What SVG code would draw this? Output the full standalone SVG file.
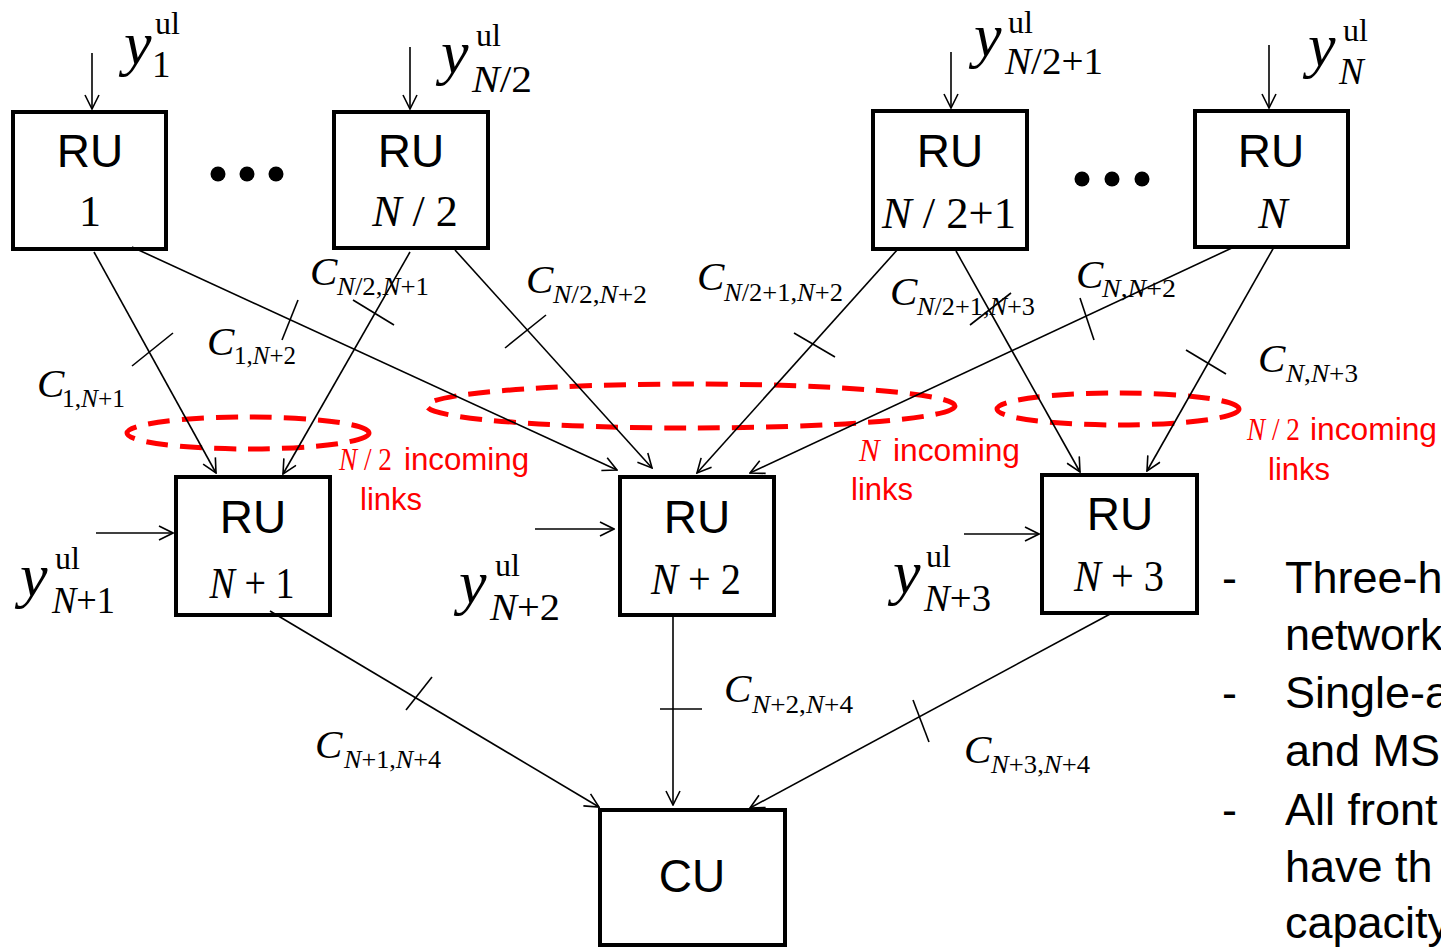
<svg xmlns="http://www.w3.org/2000/svg" width="1441" height="947" viewBox="0 0 1441 947">
<style>
.box{fill:#fff;stroke:#000;stroke-width:4}
.ru{font-family:"Liberation Sans",Arial,sans-serif;font-size:46px;text-anchor:middle;fill:#000}
.num{font-family:"Liberation Serif","Times New Roman",serif;font-size:44px;text-anchor:middle;fill:#000}
.i{font-style:italic}
.yv{font-family:"Liberation Serif","Times New Roman",serif;font-style:italic;font-size:62px}
.sup{font-family:"Liberation Serif","Times New Roman",serif;font-size:32px}
.sub{font-family:"Liberation Serif","Times New Roman",serif;font-size:37px}
.c{font-family:"Liberation Serif","Times New Roman",serif;font-style:italic;font-size:41px}
.cs{font-family:"Liberation Serif","Times New Roman",serif;font-size:25px}
.red{font-family:"Liberation Sans",Arial,sans-serif;font-size:31px;fill:#f00}
.redm{font-family:"Liberation Serif","Times New Roman",serif;font-size:31px;fill:#f00}
.note{font-family:"Liberation Sans",Arial,sans-serif;font-size:45px;fill:#000}
.conn line{stroke:#000;stroke-width:1.6;marker-end:url(#ah)}
.tick line{stroke:#000;stroke-width:1.6}
.ell{fill:none;stroke:#f00;stroke-width:5;stroke-dasharray:22 12}
</style>
<defs>
<marker id="ah" viewBox="0 0 16 16" refX="15" refY="8" markerWidth="16" markerHeight="16" markerUnits="userSpaceOnUse" orient="auto">
<path d="M1,1 L15,8 L1,15" fill="none" stroke="#000" stroke-width="1.6"/>
</marker>
</defs>
<rect width="1441" height="947" fill="#fff"/>

<g id="ru1"><rect class="box" x="13" y="112" width="153" height="137"/><text class="ru" x="90" y="167">RU</text><text class="num" x="90" y="226">1</text></g>
<g id="ruN2"><rect class="box" x="334" y="112" width="154" height="136"/><text class="ru" x="411" y="167">RU</text><text class="num" x="415" y="226"><tspan class="i">N</tspan> / 2</text></g>
<g id="ruN21"><rect class="box" x="873" y="111" width="154" height="138"/><text class="ru" x="950" y="167">RU</text><text class="num" x="949" y="228" textLength="134" lengthAdjust="spacingAndGlyphs"><tspan class="i">N</tspan> / 2+1</text></g>
<g id="ruN"><rect class="box" x="1195" y="111" width="153" height="136"/><text class="ru" x="1271" y="167">RU</text><text class="num i" x="1273" y="228">N</text></g>
<g id="ruN1"><rect class="box" x="176" y="477" width="154" height="138"/><text class="ru" x="253" y="533">RU</text><text class="num" x="252" y="598" textLength="85" lengthAdjust="spacingAndGlyphs"><tspan class="i">N</tspan> + 1</text></g>
<g id="ruN2b"><rect class="box" x="620" y="477" width="154" height="138"/><text class="ru" x="697" y="533">RU</text><text class="num" x="696" y="594" textLength="90" lengthAdjust="spacingAndGlyphs"><tspan class="i">N</tspan> + 2</text></g>
<g id="ruN3"><rect class="box" x="1042" y="475" width="155" height="138"/><text class="ru" x="1120" y="530">RU</text><text class="num" x="1119" y="591" textLength="90" lengthAdjust="spacingAndGlyphs"><tspan class="i">N</tspan> + 3</text></g>
<g id="cu"><rect class="box" x="600" y="810" width="185" height="135"/><text class="ru" x="692" y="892">CU</text></g>

<g id="dots">
<circle cx="218" cy="174" r="7.5"/><circle cx="247" cy="174" r="7.5"/><circle cx="276" cy="174" r="7.5"/>
<circle cx="1082" cy="179" r="7.5"/><circle cx="1112" cy="179" r="7.5"/><circle cx="1142" cy="179" r="7.5"/>
</g>

<g id="ellipses">
<ellipse class="ell" cx="248" cy="433" rx="121" ry="16"/>
<ellipse class="ell" cx="691" cy="406" rx="264" ry="22"/>
<ellipse class="ell" cx="1118" cy="409" rx="121" ry="16"/>
</g>

<g id="connectors">
<g class="conn">
<line x1="92" y1="53" x2="92" y2="109"/>
<line x1="410" y1="47" x2="410" y2="109"/>
<line x1="951" y1="52" x2="951" y2="108"/>
<line x1="1269" y1="45" x2="1269" y2="108"/>
<line x1="96" y1="533" x2="173" y2="533"/>
<line x1="535" y1="529" x2="614" y2="529"/>
<line x1="964" y1="534" x2="1039" y2="534"/>
<line x1="94" y1="252" x2="216" y2="473"/>
<line x1="132" y1="247" x2="617" y2="470"/>
<line x1="410" y1="252" x2="283" y2="474"/>
<line x1="455" y1="250" x2="652" y2="468"/>
<line x1="898" y1="249" x2="697" y2="473"/>
<line x1="956" y1="251" x2="1080" y2="472"/>
<line x1="1234" y1="247" x2="750" y2="473"/>
<line x1="1274" y1="247" x2="1147" y2="471"/>
<line x1="270" y1="611" x2="599" y2="807"/>
<line x1="673" y1="617" x2="673" y2="805"/>
<line x1="1112" y1="613" x2="750" y2="808"/>
</g>
<g class="tick">
<line x1="132" y1="366" x2="173" y2="333"/>
<line x1="282" y1="340" x2="298" y2="300"/>
<line x1="353" y1="300" x2="394" y2="325"/>
<line x1="505" y1="348" x2="546" y2="315"/>
<line x1="794" y1="333" x2="835" y2="357"/>
<line x1="970" y1="325" x2="1011" y2="293"/>
<line x1="1080" y1="298" x2="1094" y2="340"/>
<line x1="1186" y1="350" x2="1226" y2="374"/>
<line x1="406" y1="710" x2="432" y2="677"/>
<line x1="660" y1="709" x2="702" y2="709"/>
<line x1="913" y1="700" x2="929" y2="742"/>
</g>
</g>

<g id="inputs">
<text class="yv" x="124" y="64">y</text><text class="sup" x="155" y="34">ul</text><text class="sub" x="152" y="77">1</text>
<text class="yv" x="441" y="73">y</text><text class="sup" x="476" y="46">ul</text><text class="sub" x="472" y="92" textLength="60" lengthAdjust="spacingAndGlyphs"><tspan class="i">N</tspan>/2</text>
<text class="yv" x="974" y="56">y</text><text class="sup" x="1008" y="33">ul</text><text class="sub" x="1005" y="74" textLength="98" lengthAdjust="spacingAndGlyphs"><tspan class="i">N</tspan>/2+1</text>
<text class="yv" x="1308" y="66">y</text><text class="sup" x="1343" y="41">ul</text><text class="sub i" x="1339" y="84">N</text>
<text class="yv" x="20" y="596">y</text><text class="sup" x="55" y="569">ul</text><text class="sub" x="52" y="613" textLength="63" lengthAdjust="spacingAndGlyphs"><tspan class="i">N</tspan>+1</text>
<text class="yv" x="459" y="603">y</text><text class="sup" x="495" y="576">ul</text><text class="sub" x="490" y="620" textLength="70" lengthAdjust="spacingAndGlyphs"><tspan class="i">N</tspan>+2</text>
<text class="yv" x="893" y="593">y</text><text class="sup" x="926" y="567">ul</text><text class="sub" x="924" y="611" textLength="67" lengthAdjust="spacingAndGlyphs"><tspan class="i">N</tspan>+3</text>
</g>

<g id="capacities">
<text class="c" x="37" y="397">C</text><text class="cs" x="62" y="407" textLength="63" lengthAdjust="spacingAndGlyphs">1,<tspan class="i">N</tspan>+1</text>
<text class="c" x="207" y="355">C</text><text class="cs" x="234" y="364" textLength="62" lengthAdjust="spacingAndGlyphs">1,<tspan class="i">N</tspan>+2</text>
<text class="c" x="310" y="285">C</text><text class="cs" x="337" y="295" textLength="92" lengthAdjust="spacingAndGlyphs"><tspan class="i">N</tspan>/2,<tspan class="i">N</tspan>+1</text>
<text class="c" x="526" y="293">C</text><text class="cs" x="553" y="303" textLength="94" lengthAdjust="spacingAndGlyphs"><tspan class="i">N</tspan>/2,<tspan class="i">N</tspan>+2</text>
<text class="c" x="697" y="290">C</text><text class="cs" x="724" y="301" textLength="119" lengthAdjust="spacingAndGlyphs"><tspan class="i">N</tspan>/2+1,<tspan class="i">N</tspan>+2</text>
<text class="c" x="890" y="305">C</text><text class="cs" x="917" y="315" textLength="118" lengthAdjust="spacingAndGlyphs"><tspan class="i">N</tspan>/2+1,<tspan class="i">N</tspan>+3</text>
<text class="c" x="1076" y="288">C</text><text class="cs" x="1102" y="297" textLength="74" lengthAdjust="spacingAndGlyphs"><tspan class="i">N</tspan>,<tspan class="i">N</tspan>+2</text>
<text class="c" x="1258" y="372">C</text><text class="cs" x="1286" y="382" textLength="72" lengthAdjust="spacingAndGlyphs"><tspan class="i">N</tspan>,<tspan class="i">N</tspan>+3</text>
<text class="c" x="315" y="758">C</text><text class="cs" x="344" y="768" textLength="97" lengthAdjust="spacingAndGlyphs"><tspan class="i">N</tspan>+1,<tspan class="i">N</tspan>+4</text>
<text class="c" x="724" y="702">C</text><text class="cs" x="752" y="713" textLength="101" lengthAdjust="spacingAndGlyphs"><tspan class="i">N</tspan>+2,<tspan class="i">N</tspan>+4</text>
<text class="c" x="964" y="763">C</text><text class="cs" x="991" y="773" textLength="99" lengthAdjust="spacingAndGlyphs"><tspan class="i">N</tspan>+3,<tspan class="i">N</tspan>+4</text>
</g>

<g id="incoming">
<text class="redm" x="339" y="470" textLength="53" lengthAdjust="spacingAndGlyphs"><tspan class="i">N</tspan> / 2</text><text class="red" x="404" y="470" textLength="125" lengthAdjust="spacingAndGlyphs">incoming</text>
<text class="red" x="360" y="510">links</text>
<text class="redm i" x="859" y="461">N</text><text class="red" x="893" y="461" textLength="127" lengthAdjust="spacingAndGlyphs">incoming</text>
<text class="red" x="851" y="500">links</text>
<text class="redm" x="1247" y="440" textLength="53" lengthAdjust="spacingAndGlyphs"><tspan class="i">N</tspan> / 2</text><text class="red" x="1310" y="440" textLength="127" lengthAdjust="spacingAndGlyphs">incoming</text>
<text class="red" x="1268" y="480">links</text>
</g>

<g id="notes">
<text class="note" x="1222" y="593">-</text><text class="note" x="1285" y="593">Three-h</text>
<text class="note" x="1285" y="650">network</text>
<text class="note" x="1222" y="708">-</text><text class="note" x="1285" y="708">Single-a</text>
<text class="note" x="1285" y="766">and MS</text>
<text class="note" x="1222" y="825">-</text><text class="note" x="1285" y="825">All front</text>
<text class="note" x="1285" y="882">have th</text>
<text class="note" x="1285" y="938">capacity</text>
</g>
</svg>
